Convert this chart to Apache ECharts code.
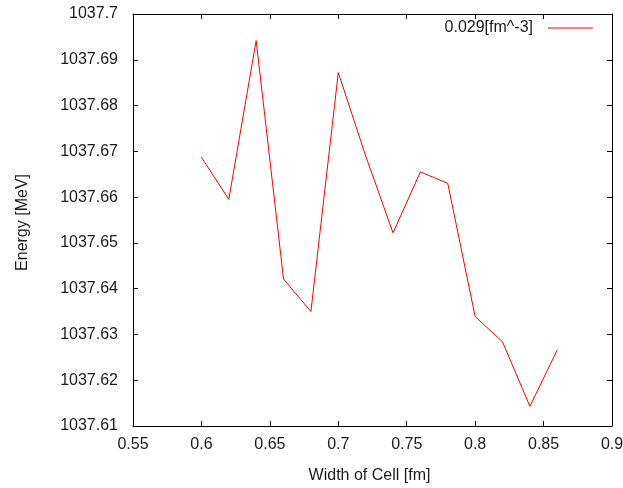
<!DOCTYPE html>
<html>
<head>
<meta charset="utf-8">
<script src="https://cdn.jsdelivr.net/npm/echarts@6/dist/echarts.min.js"></script>
<style>
  html, body { margin: 0; padding: 0; background: #fff; }
  #chart { width: 623px; height: 488px; }
</style>
</head>
<body>
<div id="chart"></div>
<script>
// Cell width [fm] and the energy computed at each width
const widths = [0.60, 0.62, 0.64, 0.66, 0.68, 0.70, 0.72, 0.74, 0.76, 0.78, 0.80, 0.82, 0.84, 0.86];
const energies = [1037.6687, 1037.6595, 1037.6942, 1037.6421, 1037.6350, 1037.6872, 1037.6690,
                  1037.6522, 1037.6655, 1037.6630, 1037.6339, 1037.6284, 1037.6143, 1037.6266];
const seriesName = '0.029[fm^-3]';

// Axis tick values
const xTicks = [0.55, 0.6, 0.65, 0.7, 0.75, 0.8, 0.85, 0.9];
const yTicks = [1037.61, 1037.62, 1037.63, 1037.64, 1037.65, 1037.66, 1037.67, 1037.68, 1037.69, 1037.7];

const FONT = 'Liberation Sans';
const FS = 16;
const TEXT = '#1a1a1a';
const fmt = (v, d) => String(parseFloat(v.toFixed(d)));

const xStep = 0.05, yStep = 0.01;

const chart = echarts.init(document.getElementById('chart'), null, { renderer: 'canvas' });

const tickStyle = { show: true, inside: true, length: 5, lineStyle: { color: '#000', width: 1 } };
const baseX = {
  type: 'value',
  min: xTicks[0],
  max: xTicks[xTicks.length - 1],
  interval: xStep,
  splitLine: { show: false },
  axisLine: { show: true, lineStyle: { color: '#000', width: 1 } },
  axisTick: tickStyle
};
const baseY = {
  type: 'value',
  min: yTicks[0],
  max: yTicks[yTicks.length - 1],
  interval: yStep,
  splitLine: { show: false },
  axisLine: { show: true, lineStyle: { color: '#000', width: 1 } },
  axisTick: tickStyle
};

chart.setOption({
  animation: false,
  backgroundColor: '#fff',
  textStyle: { fontFamily: FONT },
  grid: { left: 133, right: 11, top: 14, bottom: 62, containLabel: false, outerBoundsMode: 'none' },
  legend: {
    right: 30,
    top: 20,
    padding: 0,
    align: 'right',
    icon: 'rect',
    itemWidth: 45,
    itemHeight: 1,
    itemStyle: { color: '#ff0000' },
    textStyle: { fontFamily: FONT, fontSize: FS, color: TEXT, padding: [0, 10, 0, 0] },
    data: [seriesName]
  },
  xAxis: [
    Object.assign({}, baseX, {
      position: 'bottom',
      name: 'Width of Cell [fm]',
      nameLocation: 'middle',
      nameGap: 42,
      nameTextStyle: { fontFamily: FONT, fontSize: FS, color: TEXT, padding: [0, 6, 0, 0] },
      axisLabel: { show: true, margin: 11, fontFamily: FONT, fontSize: FS, color: TEXT,
                   formatter: v => fmt(v, 2) }
    }),
    Object.assign({}, baseX, { position: 'top', axisLabel: { show: false } })
  ],
  yAxis: [
    Object.assign({}, baseY, {
      position: 'left',
      axisLabel: { show: true, margin: 15, fontFamily: FONT, fontSize: FS, color: TEXT,
                   formatter: v => fmt(v, 2) }
    }),
    Object.assign({}, baseY, { position: 'right', axisLabel: { show: false } })
  ],
  graphic: [{
    type: 'text',
    left: 15,
    top: 174,
    rotation: Math.PI / 2,
    style: { text: 'Energy [MeV]', fill: TEXT, font: FS + 'px "' + FONT + '"' }
  }],
  series: [{
    name: seriesName,
    type: 'line',
    xAxisIndex: 0,
    yAxisIndex: 0,
    symbol: 'none',
    lineStyle: { color: '#ff0000', width: 1 },
    itemStyle: { color: '#ff0000' },
    data: widths.map((w, i) => [w, energies[i]])
  }]
});
</script>
</body>
</html>
